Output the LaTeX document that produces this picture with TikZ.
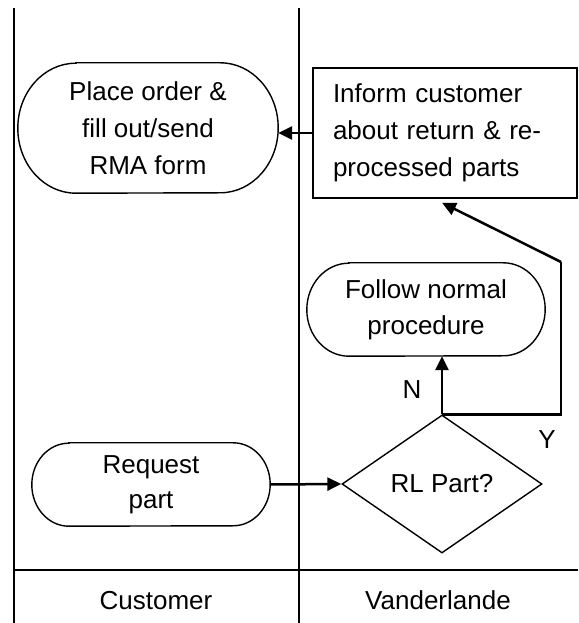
\documentclass[tikz,border=0pt]{standalone}
\usepackage{fontspec}
\setmainfont{Liberation Sans}
\usetikzlibrary{arrows.meta,shapes.geometric}

% stadium outline around a named node: #1 node, #2 cap width, #3 half height
\newcommand\drawstadium[3]{%
  \draw[boxline] ([xshift=#2]#1.north west) -- ([xshift=-#2]#1.north east)
    arc[start angle=90,end angle=-90,x radius=#2,y radius=#3]
    -- ([xshift=#2]#1.south west)
    arc[start angle=270,end angle=90,x radius=#2,y radius=#3] -- cycle;}

\tikzset{
  lane/.style={line width=1.4pt},
  boxline/.style={line width=1.4pt},
  txt/.style={font=\fontsize{26}{37}\selectfont, align=center, inner sep=0pt},
  stadium/.style={txt, minimum width=#1},
  rectbox/.style={txt, draw, boxline, align=left, inner xsep=20pt,
    text width=224pt, minimum height=130pt},
  decision/.style={txt, draw, boxline, diamond, minimum width=200pt,
    minimum height=138pt},
  flow/.style={line width=2.5pt, -{Triangle[length=14pt,width=13pt]}},
  flowline/.style={line width=2.5pt},
  lbl/.style={font=\fontsize{26}{30}\selectfont, inner sep=0pt, anchor=base}
}

\begin{document}
\begin{tikzpicture}[x=1pt,y=1pt]
\useasboundingbox (0,0) rectangle (578,623);

% swimlanes
\coordinate (lt) at (14,615);  \coordinate (lb) at (14,0);
\coordinate (mt) at (299,615); \coordinate (mb) at (299,0);
\coordinate (hl) at (14,53);   \coordinate (hr) at (578,53);
\draw[lane] (lt) -- (lb);
\draw[lane] (mt) -- (mb);
\draw[lane] (hl) -- (hr);
\node[lbl] (cust) at (156,13) {Customer};
\node[lbl] (vand) at (438,13) {Vanderlande};

% customer lane
\node[stadium=260pt, minimum height=130pt] (po) at (148,495)
  {Place order \&\\fill out/send\\RMA form};
\drawstadium{po}{58pt}{65pt}
\node[stadium=238pt, minimum height=83pt, font=\fontsize{26}{35}\selectfont] (req) at (151,138.5)
  {Request\\part};
\drawstadium{req}{37pt}{41.5pt}

% Vanderlande lane
\node[rectbox] (inf) at (445,490)
  {Inform customer\\about return \& re-\\processed parts};
\node[stadium=238pt, minimum height=93pt, font=\fontsize{26}{36}\selectfont] (fol) at (426,313.5)
  {Follow normal\\procedure};
\drawstadium{fol}{42pt}{46.5pt}
\node[decision] (dia) at (442,139) {RL Part?};

% connectors
\draw[flow] (inf.west) -- (inf.west -| po.east);
\draw[flow] (req.east) -- (dia.west);
\draw[flow] (dia.north) -- (dia.north |- fol.south);
\coordinate (ycorner) at (561,361);
\coordinate (ytip) at ([shift={(-3,-4)}]inf.south);
\draw[flowline] (dia.north) -| (ycorner);
\draw[flow] (ycorner) -- (ytip);

\node[lbl] (nlab) at (412,224) {N};
\node[lbl] (ylab) at (547,174) {Y};
\end{tikzpicture}
\end{document}
